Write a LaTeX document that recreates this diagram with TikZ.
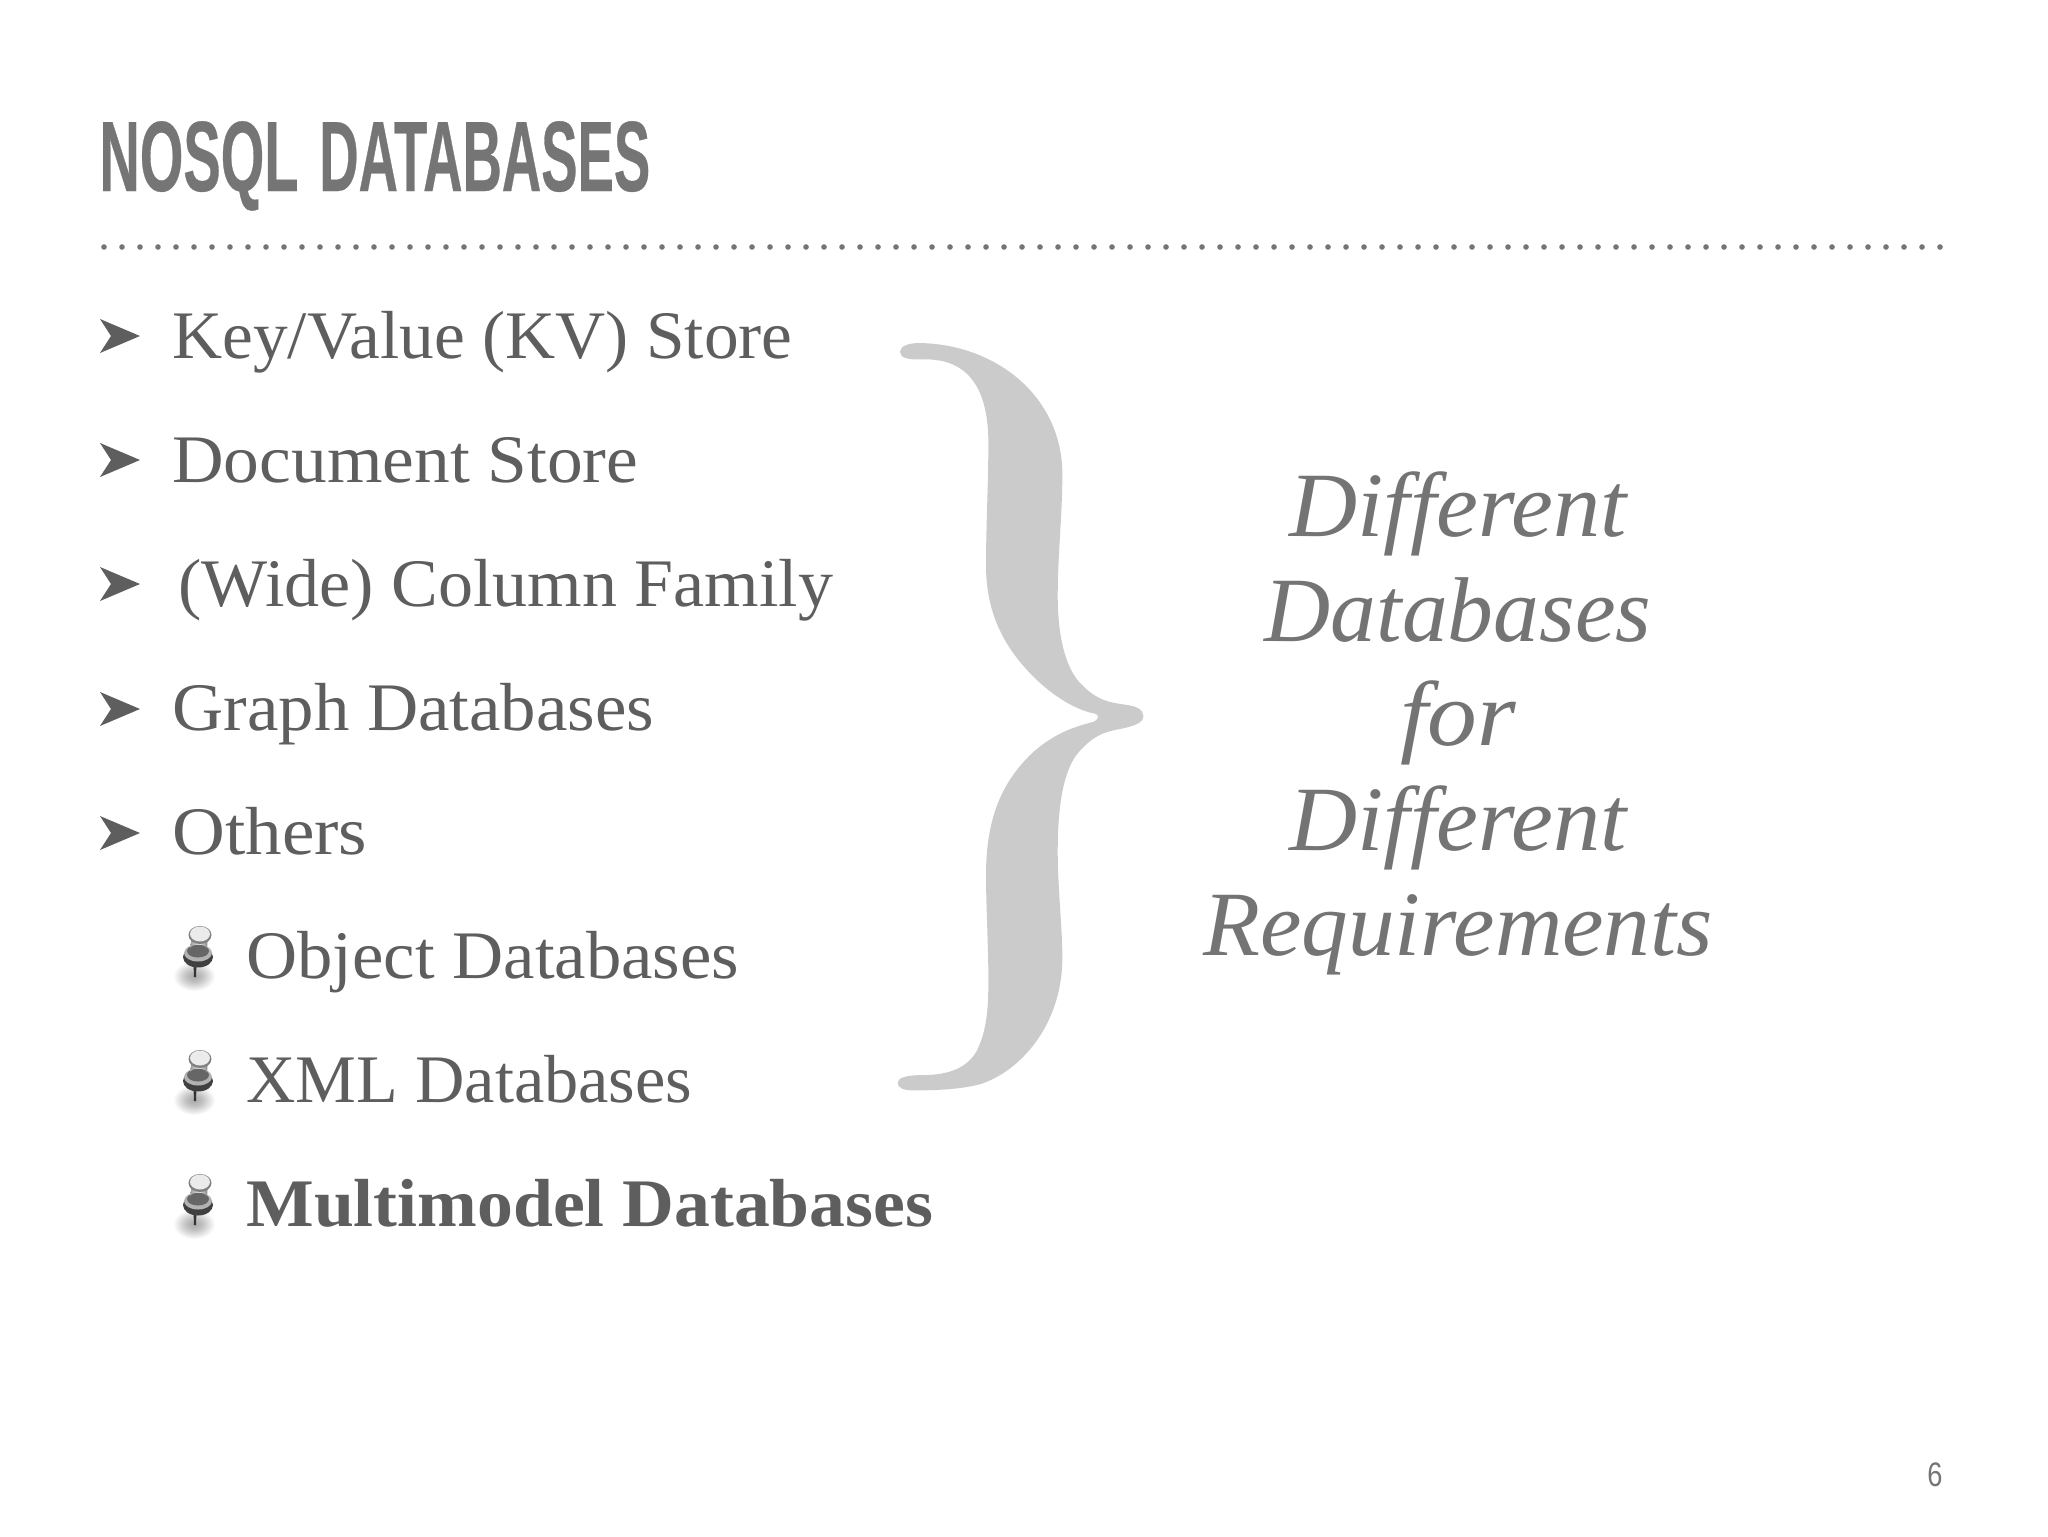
\documentclass[tikz,border=0pt]{standalone}
\usepackage{fontspec}
\usepackage{graphicx}
\setmainfont{Liberation Serif}
\newfontfamily\titlefont[FakeStretch=0.56,FakeBold=0.3]{Liberation Sans Bold}
\newfontfamily\pagefont[FakeStretch=0.8]{Liberation Sans}
\newfontfamily\bodyfont{Liberation Serif}
\newfontfamily\sidefont{Liberation Serif Italic}
\usetikzlibrary{shadings}
\definecolor{titlegray}{HTML}{757575}
\definecolor{bodygray}{HTML}{5E5E5E}
\definecolor{sidegray}{HTML}{747474}
\definecolor{bracegray}{HTML}{CBCBCB}
\pgfdeclareradialshading{pinshadow}{\pgfpoint{0bp}{0bp}}{color(0bp)=(black!34);color(10bp)=(black!24);color(25bp)=(white);color(50bp)=(white)}
\newcommand{\hfit}[2]{\scalebox{#1}[1]{#2}}
\tikzset{
  itemtext/.style={anchor=base west,inner sep=0pt,text=bodygray,font=\fontsize{34}{40}\selectfont\bodyfont},
  sidetext/.style={anchor=base,inner sep=0pt,text=sidegray,font=\fontsize{46}{52}\selectfont\sidefont},
  titletext/.style={anchor=base west,inner sep=0pt,text=titlegray,font=\fontsize{50}{56}\selectfont\titlefont},
  pagetext/.style={anchor=base,inner sep=0pt,text=titlegray,font=\fontsize{17}{20}\selectfont\pagefont},
  pin/.pic={
    \shade[shading=pinshadow] (-6,41) ellipse (21 and 15);
    \fill[black!80] (-6.5,28) -- (-3.5,28) -- (-4,42) -- (-6,42) -- cycle;
    \fill[black!75] (-2,22) ellipse (15 and 10.5);
    \fill[black!30] (-2,18) ellipse (14 and 8.5);
    \fill[black!60] (-2,16) ellipse (11 and 6.5);
    \shade[left color=black!40,right color=black!50,middle color=black!8] (-8,0) -- (8,0) -- (7,14) arc[start angle=0,end angle=-180,x radius=8.5,y radius=4.5] -- cycle;
    \fill[black!50] (0,0) ellipse (11.5 and 9);
    \fill[black!8] (0,-1) ellipse (10 and 7.5);
  },
  arrowbullet/.pic={
    \fill[bodygray] (-20,-17) -- (20,0) -- (-20,17) -- (-9,0) -- cycle;
  }
}
\begin{document}
\begin{tikzpicture}[x=0.5pt,y=-0.5pt]
\useasboundingbox (0,0) rectangle (2048,1536);
\fill[white] (0,0) rectangle (2048,1536);
\node[titletext] (title) at (99,191) {NOSQL\hspace{2.6pt} \hfit{0.973}{DATABASES}};
\draw[titlegray,line width=2.8pt,line cap=round,dash pattern=on 0pt off 9pt] (104,247) -- (1946,247);
\foreach \n/\yy in {k/336,d/460,w/584,g/709,o/833}
  \pic at (120,\yy) {arrowbullet};
\node[itemtext] (kv) at (172,358) {\hfit{1.02}{Key/Value (KV) Store}};
\node[itemtext] (doc) at (172,482) {\hfit{1.05}{Document Store}};
\node[itemtext] (wide) at (178,606) {\hfit{1.03}{(Wide) Column Family}};
\node[itemtext] (graph) at (172,730) {\hfit{1.042}{Graph Databases}};
\node[itemtext] (others) at (172,854) {\hfit{1.075}{Others}};
\pic at (200,935) {pin};
\pic at (200,1059) {pin};
\pic at (200,1183) {pin};
\node[itemtext] (obj) at (246,978) {\hfit{1.04}{Object Databases}};
\node[itemtext] (xml) at (246,1102) {\hfit{1.005}{XML Databases}};
\node[itemtext,font=\fontsize{34}{40}\selectfont\bodyfont\bfseries] (multi) at (246,1226) {\hfit{1.054}{Multimodel Databases}};
\begin{scope}[shift={(880,320)},x=0.1667pt,y=-0.2556pt]
\fill[bracegray] (60,62) .. controls (60,50) and (90,45) .. (120,45)
  .. controls (350,48) and (545,150) .. (547,300)
  .. controls (547,380) and (533,460) .. (533,540)
  .. controls (533,640) and (570,690) .. (600,710)
  .. controls (650,745) and (690,748) .. (730,752)
  .. controls (770,755) and (790,762) .. (790,775)
  .. controls (790,788) and (760,795) .. (720,800)
  .. controls (680,805) and (640,810) .. (590,850)
  .. controls (550,885) and (533,950) .. (533,1040)
  .. controls (533,1110) and (547,1190) .. (547,1250)
  .. controls (545,1380) and (420,1470) .. (300,1495)
  .. controls (240,1505) and (170,1507) .. (100,1507)
  .. controls (70,1507) and (53,1502) .. (53,1492)
  .. controls (53,1482) and (80,1477) .. (130,1477)
  .. controls (200,1477) and (260,1465) .. (290,1430)
  .. controls (320,1390) and (325,1350) .. (325,1290)
  .. controls (325,1220) and (318,1150) .. (318,1085)
  .. controls (318,970) and (370,900) .. (460,845)
  .. controls (530,805) and (590,795) .. (640,786)
  .. controls (655,783) and (660,772) .. (645,770)
  .. controls (600,765) and (540,745) .. (480,710)
  .. controls (380,650) and (318,580) .. (318,480)
  .. controls (318,400) and (325,320) .. (325,240)
  .. controls (325,130) and (260,75) .. (130,77)
  .. controls (85,78) and (60,75) .. (60,62) -- cycle;
\end{scope}
\node[sidetext] (s1) at (1458,536) {\hfit{1.025}{Different}};
\node[sidetext] (s2) at (1458,641) {\hfit{0.995}{Databases}};
\node[sidetext] (s3) at (1458,745) {\hfit{1.08}{for}};
\node[sidetext] (s4) at (1458,850) {\hfit{1.025}{Different}};
\node[sidetext] (s5) at (1458,955) {\hfit{1.014}{Requirements}};
\node[pagetext] (page) at (1935,1486) {6};
\end{tikzpicture}
\end{document}
